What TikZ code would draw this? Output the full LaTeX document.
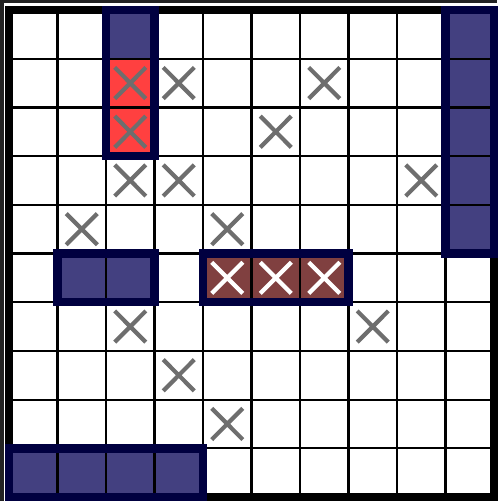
\documentclass[tikz,border=0pt]{standalone}
\usepackage{tikz}
\definecolor{navyfill}{RGB}{67,64,128}
\definecolor{navyedge}{RGB}{0,0,64}
\definecolor{hitred}{RGB}{255,64,64}
\definecolor{sunkred}{RGB}{128,64,64}
\definecolor{missgray}{RGB}{110,110,110}
\definecolor{framegray}{RGB}{34,34,34}

\tikzset{
  miss/.style={missgray, line width=2.1pt},
  sunkmark/.style={white, line width=2.1pt},
  shipedge/.style={navyedge, line width=4.2pt},
}

\newcommand{\markx}[3]{\draw[#3] (#1+0.18,#2+0.18) -- (#1+0.82,#2+0.82) (#1+0.82,#2+0.18) -- (#1+0.18,#2+0.82);}

\begin{document}
\begin{tikzpicture}[x=24.25pt, y=-24.35pt]
    \useasboundingbox (-0.1856,-0.2053) rectangle (10.062,10.082);

    %% Outer frame (top and left only)
    \draw[framegray, line width=1.75pt] (-0.1495,10.082) -- (-0.1495,-0.1694) -- (10.062,-0.1694);

    %% Cell fills
    \fill[white] (0,0) rectangle (10,10);
    \fill[navyfill] (2,0) rectangle (3,1);
    \fill[hitred] (2,1) rectangle (3,3);
    \fill[navyfill] (9,0) rectangle (10,5);
    \fill[navyfill] (1,5) rectangle (3,6);
    \fill[sunkred] (4,5) rectangle (7,6);
    \fill[navyfill] (0,9) rectangle (4,10);

    %% Grid
    \foreach \i in {1,...,9} {
        \draw[black, line width=1.1pt] (\i,0) -- (\i,10);
        \draw[black, line width=1.1pt] (0,\i) -- (10,\i);
    }
    \draw[black, line width=4pt] (0,0) rectangle (10,10);

    %% Misses
    \foreach \c/\r in {2/1, 3/1, 6/1, 2/2, 5/2, 2/3, 3/3, 8/3, 1/4, 4/4, 2/6, 7/6, 3/7, 4/8} {
        \markx{\c}{\r}{miss}
    }

    %% Sunk ship
    \foreach \c in {4,5,6} {
        \markx{\c}{5}{sunkmark}
    }

    %% Ship outlines
    \draw[shipedge] (2,0) rectangle (3,3);
    \draw[shipedge] (9,0) rectangle (10,5);
    \draw[shipedge] (1,5) rectangle (3,6);
    \draw[shipedge] (4,5) rectangle (7,6);
    \draw[shipedge] (0,9) rectangle (4,10);

\end{tikzpicture}
\end{document}
